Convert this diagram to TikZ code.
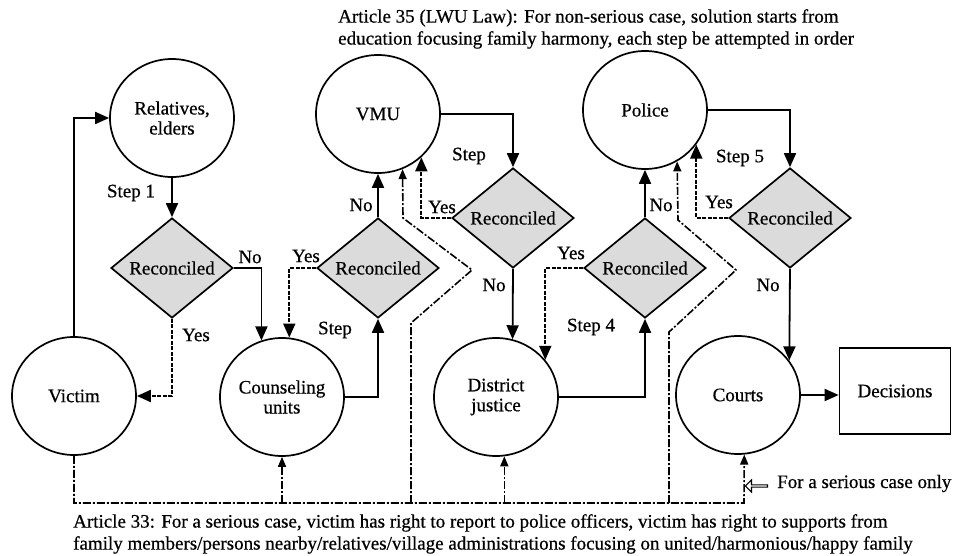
\documentclass[tikz,border=0pt]{standalone}
\usepackage{fontspec}
\setmainfont{Liberation Serif}[FakeBold=0.6]
\usepackage{tikz}
\usetikzlibrary{arrows.meta,positioning,shapes.geometric,shapes.arrows}
\tikzset{
  stage/.style={draw, ellipse, line width=1.7pt, minimum width=124pt, minimum height=118pt,
    inner sep=0pt, align=center, font=\fontsize{19}{20}\selectfont},
  check/.style={draw, diamond, fill=black!14, line width=1.7pt, minimum width=122pt,
    minimum height=100pt, inner sep=0pt},
  outcome/.style={draw, rectangle, line width=1.7pt, minimum width=111pt, minimum height=86pt},
  flow/.style={-{Triangle[length=14pt,width=12pt]}, line width=1.8pt},
  reply/.style={flow, dash pattern=on 4pt off 1.5pt},
  serious/.style={line width=1.6pt, dash pattern=on 8pt off 2pt on 2pt off 2pt},
  serious-to/.style={serious, -{Triangle[length=10pt,width=8pt]}},
  lbl/.style={inner sep=0pt},
  note/.style={anchor=north west, align=left, inner sep=0pt}
}
\begin{document}
\begin{tikzpicture}[x=1pt, y=-1pt, font=\fontsize{19}{22}\selectfont]
  \useasboundingbox (0,0) rectangle (956,556);

  % Article 35 note
  \node[note] (art35) at (338,9)
    {Article 35 (LWU Law): For non-serious case, solution starts from\\
     education focusing family harmony, each step be attempted in order};

  % stages
  \node[stage] (relatives) at (172,118) {Relatives,\\elders};
  \node[stage] (vmu) at (378,114) {VMU};
  \node[stage] (police) at (645,110) {Police};
  \node[stage] (victim) at (74,396) {Victim};
  \node[stage] (counsel) at (282,397) {Counseling\\units};
  \node[stage] (district) at (496,397) {District\\justice};
  \node[stage] (courts) at (738,395) {Courts};
  \node[outcome] (decisions) at (895,391) {Decisions};

  % reconciliation checks
  \node[check] (rec1) at (172,268) {Reconciled};
  \node[check] (rec2) at (378,268) {Reconciled};
  \node[check] (rec3) at (513,218) {Reconciled};
  \node[check] (rec4) at (645,268) {Reconciled};
  \node[check] (rec5) at (790,218) {Reconciled};

  % steps in order
  \draw[flow] (victim.north) |- (relatives.west);
  \draw[flow] (relatives) -- (rec1);
  \draw[flow] (rec1.east) -| (counsel.110);
  \draw[reply] (rec1.south) |- (victim.east);
  \draw[reply] (rec2.west) -| (counsel.83);
  \draw[flow] (counsel.east) -| (rec2.south);
  \draw[flow] (rec2.north) -- (vmu.south);
  \draw[flow] (vmu.east) -| (rec3.north);
  \draw[reply] (rec3.west) -| (vmu.-45);
  \draw[flow] (rec3.south) -- (district.74);
  \draw[reply] (rec4.west) -| (district.37);
  \draw[flow] (district.east) -| (rec4.south);
  \draw[flow] (rec4.north) -- (police.south);
  \draw[flow] (police.east) -| (rec5.north);
  \draw[reply] (rec5.west) -| (police.-34);
  \draw[flow] (rec5.south) -- (courts.34);
  \draw[flow] (courts.east) -- (courts.east -| decisions.west);

  % labels
  \node[lbl] at (131,193) {Step 1};
  \node[lbl] at (250,257) {No};
  \node[lbl] at (196,335) {Yes};
  \node[lbl] at (306,256) {Yes};
  \node[lbl] at (335,330) {Step};
  \node[lbl] at (361,205) {No};
  \node[lbl] at (469,156) {Step};
  \node[lbl] at (442,207) {Yes};
  \node[lbl] at (494,285) {No};
  \node[lbl] at (571,253) {Yes};
  \node[lbl] at (591,327) {Step 4};
  \node[lbl] at (661,205) {No};
  \node[lbl] at (719,202) {Yes};
  \node[lbl] at (740,158) {Step 5};
  \node[lbl] at (768,285) {No};

  % serious case bus (Article 33)
  \coordinate (bus) at (744,503);
  \draw[serious-to] (victim.south) |- (bus) -- (courts.-84);
  \draw[serious-to] (counsel.south |- bus) -- (counsel.south);
  \draw[serious-to] (district.-82 |- bus) -- (district.-82);
  \draw[serious-to] (411,503) -- (411,323) -- (472,270) -- (403,218) -- (vmu.-66);
  \draw[serious-to] (669,503) -- (669,332) -- (736,270) -- (678,220) -- (police.-58);

  \node[draw, single arrow, shape border rotate=180, line width=1.1pt, minimum height=22pt,
    minimum width=12pt, single arrow head extend=2.5pt, inner sep=0pt] (hint) at (757,486) {};
  \node[lbl, anchor=base west] at (777,488) {For a serious case only};

  \node[note] (art33) at (73,514)
    {Article 33: For a serious case, victim has right to report to police officers, victim has right to supports from\\
     family members/persons nearby/relatives/village administrations focusing on united/harmonious/happy family};
\end{tikzpicture}
\end{document}
